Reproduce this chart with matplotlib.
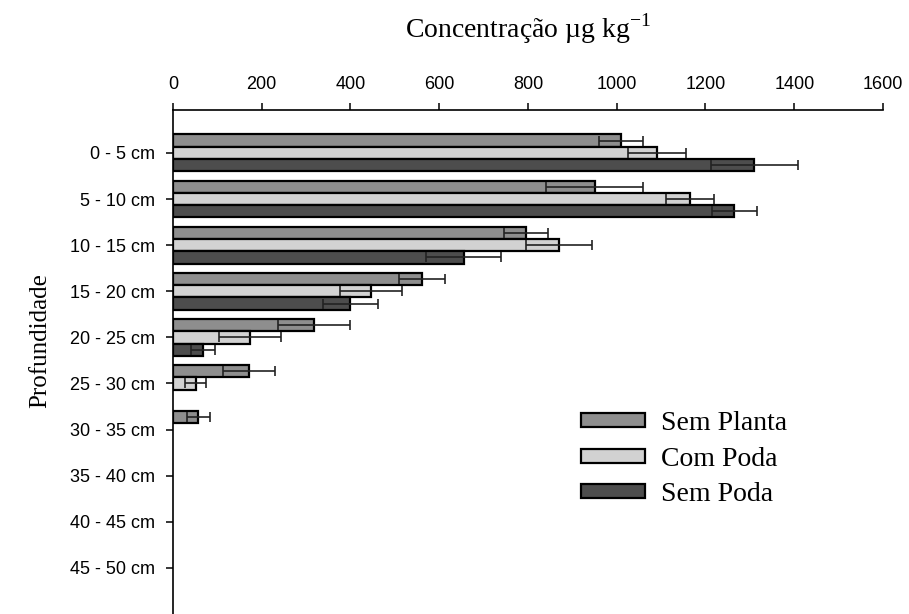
import matplotlib.pyplot as plt
import numpy as np

plt.rcParams['mathtext.fontset'] = 'custom'
plt.rcParams['mathtext.rm'] = 'Liberation Serif'

categorias = ["0 - 5 cm", "5 - 10 cm", "10 - 15 cm", "15 - 20 cm", "20 - 25 cm",
              "25 - 30 cm", "30 - 35 cm", "35 - 40 cm", "40 - 45 cm", "45 - 50 cm"]

sem_planta = [1010, 950, 795, 562, 318, 172, 57, 0, 0, 0]
sem_planta_err = [50, 110, 50, 52, 82, 59, 26, 0, 0, 0]
com_poda = [1090, 1165, 870, 447, 174, 51, 0, 0, 0, 0]
com_poda_err = [65, 55, 75, 70, 70, 23, 0, 0, 0, 0]
sem_poda = [1310, 1265, 655, 399, 67, 0, 0, 0, 0, 0]
sem_poda_err = [98, 50, 85, 62, 27, 0, 0, 0, 0, 0]

series = [("Sem Planta", sem_planta, sem_planta_err, "#8e8e8e"),
          ("Com Poda", com_poda, com_poda_err, "#d2d2d2"),
          ("Sem Poda", sem_poda, sem_poda_err, "#4d4d4d")]

fig = plt.figure(figsize=(9.09, 6.14), dpi=100)
ax = fig.add_axes([0.1903, 0.0, 0.7811, 0.8208])

y = np.arange(len(categorias))
h = 0.267
for i, (nome, vals, errs, cor) in enumerate(series):
    pos = y + (i - 1) * h
    vals = np.array(vals, dtype=float)
    errs = np.array(errs, dtype=float)
    mask = vals > 0
    ax.barh(pos[mask], vals[mask], height=h, color=cor, edgecolor="black",
            linewidth=1.6, label=nome)
    ax.errorbar(vals[mask], pos[mask], xerr=errs[mask], fmt="none",
                ecolor="#222222", elinewidth=1.2, capsize=3.3, capthick=1.2)

ax.set_ylim(10.0, -0.93)
ax.set_xlim(0, 1600)
ax.set_xticks(np.arange(0, 1601, 200))
ax.set_yticks(y)
ax.set_yticklabels(categorias)
ax.xaxis.tick_top()
ax.xaxis.set_label_position("top")
ax.spines["right"].set_visible(False)
ax.spines["bottom"].set_visible(False)
ax.spines["top"].set_linewidth(1.2)
ax.spines["left"].set_linewidth(1.2)
ax.tick_params(axis="both", labelsize=13, length=5, width=1.1,
               labelfontfamily="Liberation Sans")
ax.tick_params(axis="x", pad=7)
ax.tick_params(axis="y", pad=8)

ax.set_xlabel(r"Concentração µg kg$^{\mathrm{-1}}$", fontfamily="Liberation Serif",
              fontsize=20)
ax.xaxis.set_label_coords(0.5, 1.144)
ax.set_ylabel("Profundidade", fontfamily="Liberation Serif", fontsize=18)
ax.yaxis.set_label_coords(-0.172, 0.542)

leg = ax.legend(loc="center left", bbox_to_anchor=(0.5746, 0.3075), frameon=False,
                prop={"family": "Liberation Serif", "size": 20},
                handlelength=2.3, handleheight=0.4, handletextpad=0.58,
                labelspacing=0.38, borderpad=0, borderaxespad=0)

fig.savefig("out.png", dpi=100)
